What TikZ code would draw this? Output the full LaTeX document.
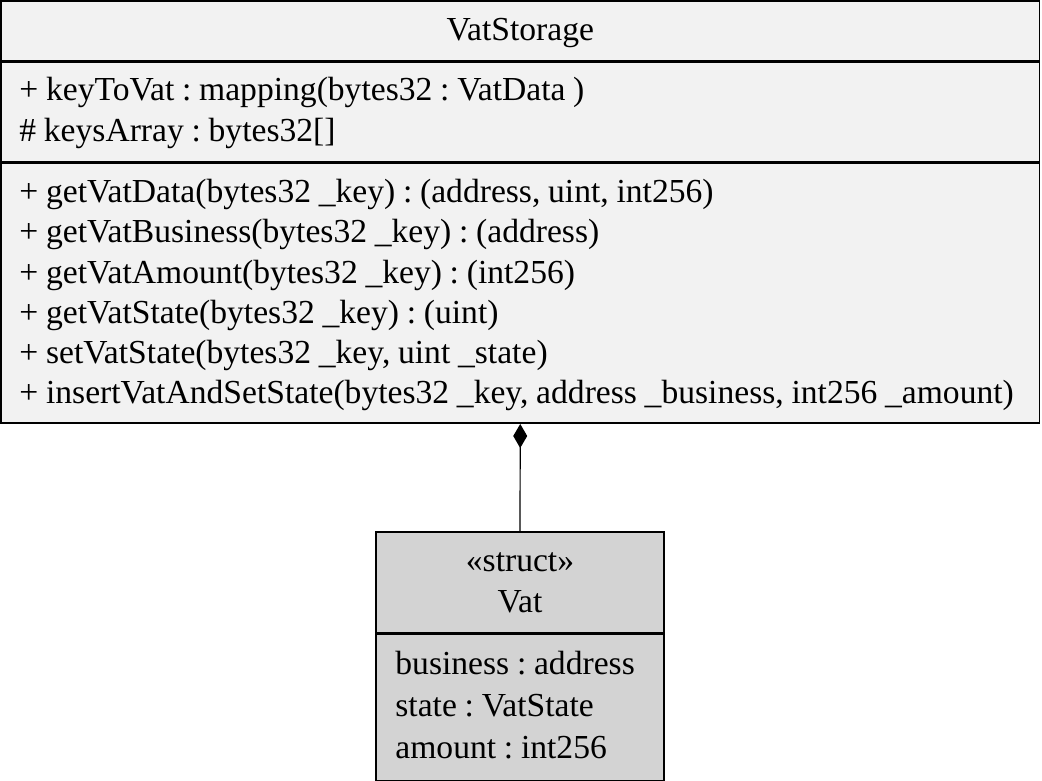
\documentclass[tikz,border=0pt]{standalone}
\usepackage{fontspec}
\setmainfont{Liberation Serif}[WordSpace=0.92]
\frenchspacing
\usetikzlibrary{arrows.meta,positioning}
\definecolor{ClassFill}{RGB}{242,242,242}
\definecolor{StructFill}{RGB}{211,211,211}
\tikzset{
  part/.style={rectangle,draw=black,line width=1.6pt,inner sep=0pt},
  txt/.style={inner sep=0pt,font=\fontsize{33.6}{40.5}\selectfont},
  member/.style={txt,anchor=base west},
  comp/.style={{Diamond[length=24pt,width=14pt,fill=black]}-,line width=1.2pt},
}
\begin{document}
\begin{tikzpicture}[x=1pt,y=-1pt]
  \useasboundingbox (0,0) rectangle (1042,781);
  % VatStorage class
  \node[part,fill=ClassFill,minimum width=1038.5pt,minimum height=59.5pt] (storeName) at (520.25,30.75) {};
  \node[part,fill=ClassFill,minimum width=1038.5pt,minimum height=99.5pt,below=0pt of storeName] (storeAttr) {};
  \node[part,fill=ClassFill,minimum width=1038.5pt,minimum height=260pt,below=0pt of storeAttr] (storeOps) {};
  \node[txt,anchor=base] (storeTitle) at ([yshift=-40.5pt]storeName.north) {VatStorage};
  \foreach \m [count=\i] in {+ keyToVat : mapping(bytes32 : VatData ),
                             \# keysArray : bytes32[]}
    \node[member] (attr\i) at ([xshift=19pt,yshift={-39.5pt-41pt*(\i-1)}]storeAttr.north west) {\m};
  \foreach \m [count=\i] in {{+ getVatData(bytes32 \_key) : (address, uint, int256)},
                             + getVatBusiness(bytes32 \_key) : (address),
                             + getVatAmount(bytes32 \_key) : (int256),
                             + getVatState(bytes32 \_key) : (uint),
                             {+ setVatState(bytes32 \_key, uint \_state)},
                             {+ insertVatAndSetState(bytes32 \_key, address \_business, int256 \_amount)}}
    \node[member] (op\i) at ([xshift=19pt,yshift={-40pt-40.3pt*(\i-1)}]storeOps.north west) {\m};
  % Vat struct
  \node[part,fill=StructFill,minimum width=288pt,minimum height=101pt] (vatName) at (520,582.5) {};
  \node[part,fill=StructFill,minimum width=288pt,minimum height=146pt,below=0pt of vatName] (vatAttr) {};
  \node[txt,anchor=base] (vatStereo) at ([yshift=-40pt]vatName.north) {«struct»};
  \node[txt,anchor=base] (vatTitle) at ([yshift=-81pt]vatName.north) {Vat};
  \foreach \m [count=\i] in {business : address, state : VatState, amount : int256}
    \node[member] (field\i) at ([xshift=20pt,yshift={-41pt-42pt*(\i-1)}]vatAttr.north west) {\m};
  \draw[comp] (storeOps.south) -- (vatName.north);
\end{tikzpicture}
\end{document}
